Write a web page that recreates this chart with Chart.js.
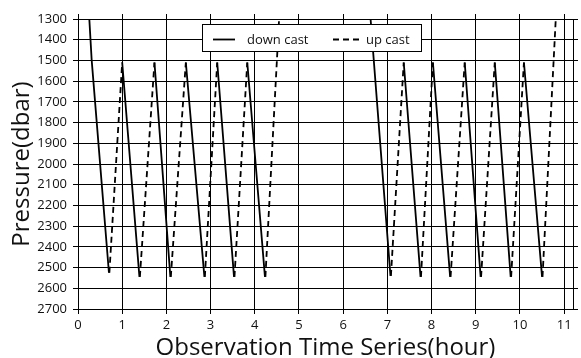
<!DOCTYPE html>
<html>
<head>
<meta charset="utf-8">
<script src="https://cdn.jsdelivr.net/npm/chart.js@4.4.1/dist/chart.umd.min.js"></script>
<style>
  html, body { margin: 0; padding: 0; background: #fff; }
</style>
</head>
<body>
<canvas id="cast-chart" width="581" height="358"></canvas>
<script>
// Profile times (hour) and pressures (dbar); null splits one cast from the next
const downTime = [0.256, 0.31, 0.70, null, 1.00, 1.39, null, 1.73, 2.09, null, 2.44, 2.86, null,
    3.15, 3.53, null, 3.83, 4.23, null, 6.62, 7.07, null, 7.37, 7.75, null, 8.03, 8.42, null,
    8.75, 9.11, null, 9.43, 9.79, null, 10.09, 10.50];
const downPressure = [1300, 1500, 2525, null, 1510, 2545, null, 1510, 2545, null, 1510, 2545, null,
    1510, 2545, null, 1510, 2545, null, 1300, 2540, null, 1510, 2545, null, 1510, 2545, null,
    1510, 2545, null, 1510, 2545, null, 1510, 2545];

const upTime = [0.71, 1.00, null, 1.40, 1.73, null, 2.10, 2.44, null, 2.87, 3.15, null,
    3.54, 3.83, null, 4.24, 4.55, null, 7.08, 7.37, null, 7.76, 8.03, null, 8.43, 8.75, null,
    9.12, 9.43, null, 9.80, 10.09, null, 10.51, 10.81];
const upPressure = [2525, 1510, null, 2545, 1510, null, 2545, 1510, null, 2545, 1510, null,
    2545, 1510, null, 2545, 1300, null, 2540, 1510, null, 2545, 1510, null, 2545, 1510, null,
    2545, 1510, null, 2545, 1510, null, 2545, 1300];

const seriesLabels = ['down cast', 'up cast'];
const xTitle = 'Observation Time Series(hour)';
const yTitle = 'Pressure(dbar)';

const FONT = '"Open Sans", Lato, sans-serif';

function toPoints(times, pressures) {
    return times.map((t, i) => ({ x: t === null ? NaN : t, y: pressures[i] }));
}

// Legend box drawn inside the plot, on top of the grid
const castLegend = {
    id: 'castLegend',
    afterDraw(chart) {
        const ctx = chart.ctx;
        const sets = chart.data.datasets;
        ctx.save();
        ctx.fillStyle = '#fff';
        ctx.fillRect(202, 24, 220, 28);
        ctx.strokeStyle = '#000';
        ctx.lineWidth = 1;
        ctx.strokeRect(202.5, 24.5, 219, 27);

        ctx.font = '13px ' + FONT;
        ctx.fillStyle = '#111';
        ctx.textBaseline = 'alphabetic';
        const items = [
            { x0: 213, x1: 235, tx: 247, ds: sets[0] },
            { x0: 333, x1: 360, tx: 366, ds: sets[1] }
        ];
        items.forEach(it => {
            ctx.beginPath();
            ctx.setLineDash(it.ds.borderDash || []);
            ctx.lineWidth = it.ds.borderWidth;
            ctx.strokeStyle = it.ds.borderColor;
            ctx.moveTo(it.x0, 39.5);
            ctx.lineTo(it.x1, 39.5);
            ctx.stroke();
            ctx.setLineDash([]);
            ctx.fillText(it.ds.label, it.tx, 44);
        });
        ctx.restore();
    }
};

const tickFont = { family: FONT, size: 13 };
const gridStyle = { color: '#000', lineWidth: 1, tickLength: 5 };

new Chart(document.getElementById('cast-chart'), {
    type: 'line',
    data: {
        datasets: [{
            label: seriesLabels[0],
            data: toPoints(downTime, downPressure),
            borderColor: '#000',
            borderWidth: 1.8,
            pointRadius: 0,
            spanGaps: false,
            tension: 0
        }, {
            label: seriesLabels[1],
            data: toPoints(upTime, upPressure),
            borderColor: '#000',
            borderWidth: 1.8,
            borderDash: [6, 4],
            pointRadius: 0,
            spanGaps: false,
            tension: 0
        }]
    },
    options: {
        responsive: false,
        animation: false,
        devicePixelRatio: 1,
        layout: { padding: 0 },
        plugins: { legend: { display: false }, tooltip: { enabled: false } },
        scales: {
            x: {
                type: 'linear', position: 'bottom', min: 0, max: 11.2,
                ticks: { stepSize: 1, includeBounds: false, padding: 3, color: '#111', font: tickFont,
                    callback: v => String(v) },
                grid: gridStyle,
                border: { color: '#000', width: 1 },
                title: { display: true, text: xTitle, color: '#111', padding: 0,
                    font: { family: FONT, size: 24, lineHeight: 0.8 } },
                afterFit: s => { s.height = 49; }
            },
            x2: {
                type: 'linear', position: 'top', min: 0, max: 11.2,
                ticks: { stepSize: 1, includeBounds: false, display: false },
                grid: { drawOnChartArea: false, color: '#000', tickLength: 5 },
                border: { color: '#000', width: 1 },
                afterFit: s => { s.height = 19; }
            },
            y: {
                type: 'linear', position: 'left', reverse: true, min: 1300, max: 2700,
                ticks: { stepSize: 100, padding: 6, color: '#111', font: tickFont,
                    callback: v => String(v) },
                grid: gridStyle,
                border: { color: '#000', width: 1 },
                title: { display: true, text: yTitle, color: '#111', padding: { top: 8, bottom: 0 },
                    font: { family: FONT, size: 24 } },
                afterFit: s => { s.width = 78; }
            },
            y2: {
                type: 'linear', position: 'right', reverse: true, min: 1300, max: 2700,
                ticks: { stepSize: 100, display: false },
                grid: { drawOnChartArea: false, color: '#000', tickLength: 5 },
                border: { color: '#000', width: 1 },
                afterFit: s => { s.width = 8; }
            }
        }
    },
    plugins: [castLegend]
});
</script>
</body>
</html>
